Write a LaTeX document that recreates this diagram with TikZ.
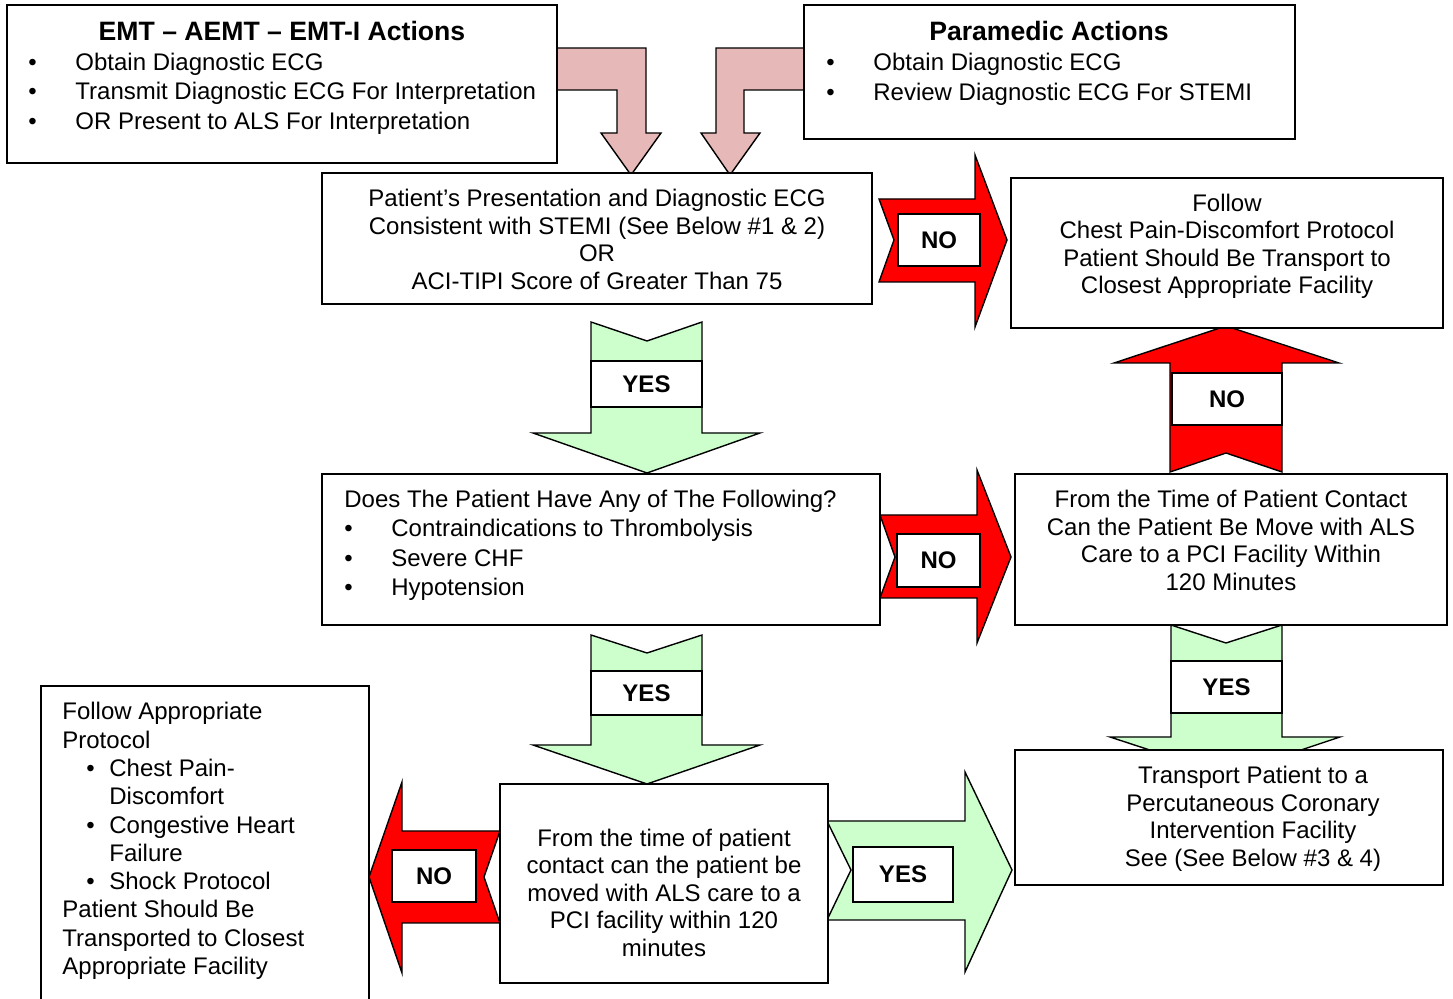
\documentclass[tikz,border=0pt]{standalone}
\usepackage{fontspec}
\setmainfont{Liberation Sans}
\usetikzlibrary{positioning}
\definecolor{pinkfill}{HTML}{E6B9B8}
\definecolor{greenfill}{HTML}{CCFFCC}
\newcommand\fsize[1]{\fontsize{12}{#1}\selectfont}
\newcommand\itm{\makebox[23.5pt][l]{•}}
\newcommand\subitm{\hspace*{12pt}\makebox[11.5pt][l]{•}}
\newcommand\hang{\hspace*{23.5pt}}

\begin{document}
\begin{tikzpicture}[x=0.5pt, y=-0.5pt,
    box/.style 2 args = {rectangle, draw, line width=1pt, fill=white,% boxes of the chart
                anchor=north west, inner sep=0pt, outer sep=0pt,
                minimum width=#1*0.5pt, minimum height=#2*0.5pt},
    tag/.style 2 args = {rectangle, draw, line width=0.9pt, fill=white,% labels on the block arrows
                inner sep=0pt, minimum width=#1*0.5pt, minimum height=#2*0.5pt,
                font=\fsize{14pt}\bfseries},
    blk/.style = {draw, line width=0.7pt, line join=miter},% block arrows
    txt/.style = {inner sep=0pt, align=center},
    lst/.style = {inner sep=0pt, align=left, anchor=west},
    head/.style = {inner sep=0pt, font=\fontsize{13.3}{15}\selectfont\bfseries},% box titles
                        ]
\useasboundingbox (0,0) rectangle (1453,999);
% block arrows (drawn first, boxes lie over their ends)
\draw[blk, fill=pinkfill] (557,48) -- (646,48) -- (646,133) -- (661,133) -- (631,175)
    -- (601,133) -- (617,133) -- (617,90) -- (557,90) -- cycle;
\draw[blk, fill=pinkfill] (804,48) -- (716,48) -- (716,133) -- (701,133) -- (730,175)
    -- (760,133) -- (744,133) -- (744,90) -- (804,90) -- cycle;
\draw[blk, fill=red] (879,199) -- (975,199) -- (975,155) -- (1007,240) -- (975,327)
    -- (975,282) -- (879,282) -- (894,240) -- cycle;
\draw[blk, fill=red] (880,515) -- (977,515) -- (977,470) -- (1011,557) -- (977,643)
    -- (977,598) -- (880,598) -- (895,557) -- cycle;
\draw[blk, fill=red] (1170,472) -- (1226,453) -- (1282,472) -- (1282,363) -- (1339,363)
    -- (1226,326) -- (1114,363) -- (1170,363) -- cycle;
\draw[blk, fill=red] (500,831) -- (402,831) -- (402,782) -- (369,877) -- (402,973)
    -- (402,923) -- (500,923) -- (484,877) -- cycle;
\draw[blk, fill=greenfill] (591,322) -- (647,341) -- (702,322) -- (702,433) -- (760,433)
    -- (647,473) -- (533,433) -- (591,433) -- cycle;
\draw[blk, fill=greenfill] (591,635) -- (647,653) -- (702,635) -- (702,745) -- (760,745)
    -- (647,784) -- (533,745) -- (591,745) -- cycle;
\draw[blk, fill=greenfill] (1171,625) -- (1226,643) -- (1282,625) -- (1282,737) -- (1340,737)
    -- (1226,775) -- (1110,737) -- (1171,737) -- cycle;
\draw[blk, fill=greenfill] (827,821) -- (965,821) -- (965,772) -- (1012,870) -- (965,972)
    -- (965,920) -- (827,920) -- (851,870) -- cycle;
% boxes
\node[box={550}{158}] (emt) at (7,5) {};
\node[box={491}{134}] (para) at (804,5) {};
\node[box={550}{131}] (pres) at (322,173) {};
\node[box={432}{150}] (follow) at (1011,178) {};
\node[box={558}{151}] (does) at (322,474) {};
\node[box={432}{151}] (time) at (1015,474) {};
\node[box={428}{135}] (transp) at (1015,750) {};
\node[box={328}{330}] (other) at (41,686) {};
\node[box={328}{199}] (pci) at (500,784) {};
% texts of the boxes
\node[head] (emtTitle) at (282,31) {EMT – AEMT – EMT-I Actions};
\node[lst, font=\fsize{14.75pt}] (emtList) at (28,94) {\strut\itm Obtain Diagnostic ECG\\
    \itm Transmit Diagnostic ECG For Interpretation\\
    \itm OR Present to ALS For Interpretation\strut};
\node[head] (paraTitle) at (1049,31) {Paramedic Actions};
\node[lst, font=\fsize{15pt}] (paraList) at (826,80) {\strut\itm Obtain Diagnostic ECG\\
    \itm Review Diagnostic ECG For STEMI\strut};
\node[txt, font=\fsize{13.85pt}] (presText) at (597,242.5) {\strut Patient’s Presentation and Diagnostic ECG\\
    Consistent with STEMI (See Below \#1 \& 2)\\OR\\ACI-TIPI Score of Greater Than 75\strut};
\node[txt, font=\fsize{13.65pt}] (followText) at (1227,247) {\strut Follow\\Chest Pain-Discomfort Protocol\\
    Patient Should Be Transport to\\Closest Appropriate Facility\strut};
\node[lst, font=\fsize{14.65pt}] (doesText) at (344,545.7) {\strut Does The Patient Have Any of The Following?\\
    \itm Contraindications to Thrombolysis\\\itm Severe CHF\\\itm Hypotension\strut};
\node[txt, font=\fsize{13.85pt}] (timeText) at (1231,543.5) {\strut From the Time of Patient Contact\\
    Can the Patient Be Move with ALS\\Care to a PCI Facility Within\\120 Minutes\strut};
\node[txt, font=\fsize{13.85pt}] (transpText) at (1253,819.5) {\strut Transport Patient to a\\
    Percutaneous Coronary\\Intervention Facility\\See (See Below \#3 \& 4)\strut};
\node[txt, font=\fsize{13.75pt}] (pciText) at (664,896) {\strut From the time of patient\\
    contact can the patient be\\moved with ALS care to a\\PCI facility within 120\\minutes\strut};
\node[lst, font=\fsize{14.15pt}] (otherText) at (62,841.5) {\strut Follow Appropriate\\Protocol\\
    \subitm Chest Pain-\\\hang Discomfort\\\subitm Congestive Heart\\\hang Failure\\
    \subitm Shock Protocol\\Patient Should Be\\Transported to Closest\\Appropriate Facility\strut};
% labels on the arrows
\node[tag={82}{52}] (noStemi) at (939,240) {NO};
\node[tag={83}{53}] (noContra) at (938.5,560.5) {NO};
\node[tag={110}{52}] (noTime) at (1227,399) {NO};
\node[tag={84}{52}] (noPci) at (434,876) {NO};
\node[tag={111}{46}] (yesStemi) at (646.5,384) {YES};
\node[tag={111}{44}] (yesContra) at (646.5,693) {YES};
\node[tag={111}{52}] (yesTime) at (1226.5,687) {YES};
\node[tag={100}{55}] (yesPci) at (903,874.5) {YES};
\end{tikzpicture}
\end{document}
